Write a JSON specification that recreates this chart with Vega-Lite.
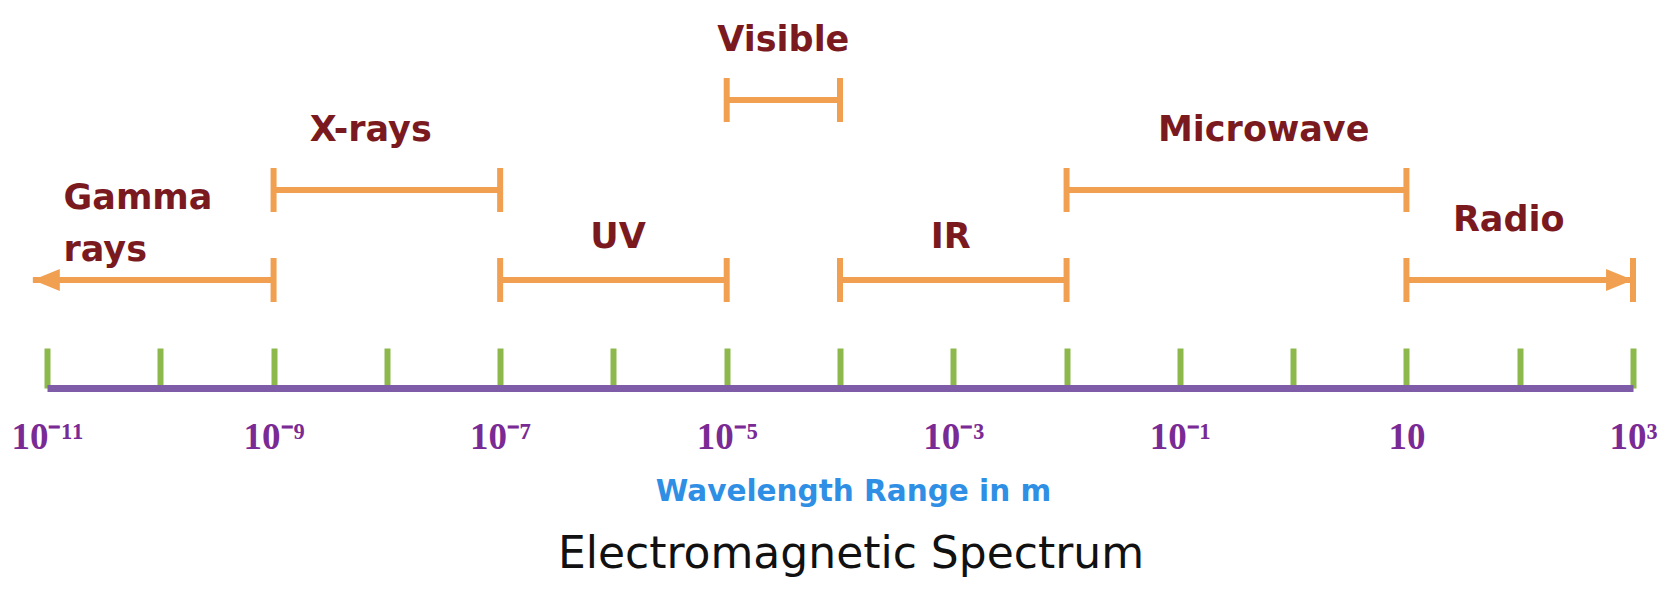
{
  "$schema": "https://vega.github.io/schema/vega-lite/v6.json",
  "autosize": "none",
  "width": 1586,
  "height": 388,
  "padding": {"left": 47, "top": 0, "right": 35, "bottom": 205},
  "background": "white",
  "config": {"view": {"stroke": null}},
  "title": {
    "text": "Electromagnetic Spectrum",
    "orient": "bottom",
    "anchor": "middle",
    "font": "DejaVu Sans",
    "fontSize": 44,
    "fontWeight": "normal",
    "color": "#111111",
    "offset": 27,
    "dx": 11
  },
  "data": {
    "values": [
      {"band": "Gamma rays", "from": 7.5e-12, "to": 1e-9, "tier": 2, "labelAt": 1.4e-11},
      {"band": "X-rays", "from": 1e-9, "to": 1e-7, "tier": 3, "labelAt": 7.2e-9},
      {"band": "UV", "from": 1e-7, "to": 1e-5, "tier": 2, "labelAt": 1.1e-6},
      {"band": "Visible", "from": 1e-5, "to": 1e-4, "tier": 4, "labelAt": 3.16e-5},
      {"band": "IR", "from": 1e-4, "to": 1e-2, "tier": 2, "labelAt": 9.5e-4},
      {"band": "Microwave", "from": 1e-2, "to": 10, "tier": 3, "labelAt": 0.55},
      {"band": "Radio", "from": 10, "to": 1000, "tier": 2, "labelAt": 80}
    ]
  },
  "layer": [
    {
      "mark": {"type": "rule", "color": "#f0a050", "strokeWidth": 6},
      "encoding": {
        "x": {
          "field": "from",
          "type": "quantitative",
          "scale": {"type": "log", "domain": [1e-11, 1000]},
          "axis": {
            "values": [1e-11, 1e-10, 1e-9, 1e-8, 1e-7, 1e-6, 1e-5, 1e-4, 1e-3, 1e-2, 1e-1, 1, 10, 100, 1000],
            "grid": false,
            "tickSize": -40,
            "tickWidth": 6,
            "tickColor": "#8cb84c",
            "domainColor": "#7f5ca8",
            "domainWidth": 7,
            "labelExpr": "{'-11':'10⁻¹¹','-9':'10⁻⁹','-7':'10⁻⁷','-5':'10⁻⁵','-3':'10⁻³','-1':'10⁻¹','1':'10','3':'10³'}['' + round(log(datum.value)/LN10)] || ''",
            "labelFont": "Liberation Serif",
            "labelFontWeight": "bold",
            "labelFontSize": 37,
            "labelColor": "#7a2a95",
            "labelBaseline": "alphabetic",
            "labelPadding": 100,
            "labelOverlap": false,
            "labelFlush": false,
            "title": "Wavelength Range in m",
            "titleFont": "DejaVu Sans",
            "titleFontWeight": "bold",
            "titleFontSize": 29.5,
            "titleColor": "#2f8fe5",
            "titleX": 806,
            "titleY": 112,
            "titleAlign": "center",
            "titleBaseline": "alphabetic"
          }
        },
        "x2": {"field": "to"},
        "y": {
          "field": "tier",
          "type": "quantitative",
          "scale": {"domain": [0.8, 5.1111], "zero": false, "nice": false},
          "axis": null
        }
      }
    },
    {
      "transform": [
        {"fold": ["from", "to"], "as": ["end", "wl"]},
        {"filter": "!(datum.band == 'Gamma rays' && datum.end == 'from')"}
      ],
      "mark": {"type": "tick", "orient": "vertical", "color": "#f0a050", "thickness": 6, "size": 44, "opacity": 1},
      "encoding": {
        "x": {"field": "wl", "type": "quantitative"},
        "y": {"field": "tier", "type": "quantitative"}
      }
    },
    {
      "transform": [{"filter": "datum.band == 'Gamma rays'"}],
      "mark": {"type": "point", "shape": "M0,0L2.45,-1L2.45,1Z", "filled": true, "color": "#f0a050", "size": 484, "opacity": 1, "strokeWidth": 0},
      "encoding": {
        "x": {"field": "from", "type": "quantitative"},
        "y": {"field": "tier", "type": "quantitative"}
      }
    },
    {
      "transform": [{"filter": "datum.band == 'Radio'"}],
      "mark": {"type": "point", "shape": "M0,0L-2.45,-1L-2.45,1Z", "filled": true, "color": "#f0a050", "size": 484, "opacity": 1, "strokeWidth": 0},
      "encoding": {
        "x": {"field": "to", "type": "quantitative"},
        "y": {"field": "tier", "type": "quantitative"}
      }
    },
    {
      "transform": [{"filter": {"field": "band", "oneOf": ["Visible", "X-rays", "Radio", "Microwave"]}}],
      "mark": {"type": "text", "font": "DejaVu Sans", "fontWeight": "bold", "fontSize": 35, "color": "#7a1a1f", "align": "center", "baseline": "alphabetic", "dy": -49},
      "encoding": {
        "x": {"field": "labelAt", "type": "quantitative"},
        "y": {"field": "tier", "type": "quantitative"},
        "text": {"field": "band"}
      }
    },
    {
      "transform": [{"filter": {"field": "band", "oneOf": ["UV", "IR"]}}],
      "mark": {"type": "text", "font": "DejaVu Sans", "fontWeight": "bold", "fontSize": 35, "color": "#7a1a1f", "align": "center", "baseline": "alphabetic", "dy": -32},
      "encoding": {
        "x": {"field": "labelAt", "type": "quantitative"},
        "y": {"field": "tier", "type": "quantitative"},
        "text": {"field": "band"}
      }
    },
    {
      "transform": [{"filter": "datum.band == 'Gamma rays'"}],
      "mark": {"type": "text", "font": "DejaVu Sans", "fontWeight": "bold", "fontSize": 35, "color": "#7a1a1f", "align": "left", "baseline": "alphabetic", "dy": -71, "lineBreak": " ", "lineHeight": 52},
      "encoding": {
        "x": {"field": "labelAt", "type": "quantitative"},
        "y": {"field": "tier", "type": "quantitative"},
        "text": {"field": "band"}
      }
    }
  ]
}
